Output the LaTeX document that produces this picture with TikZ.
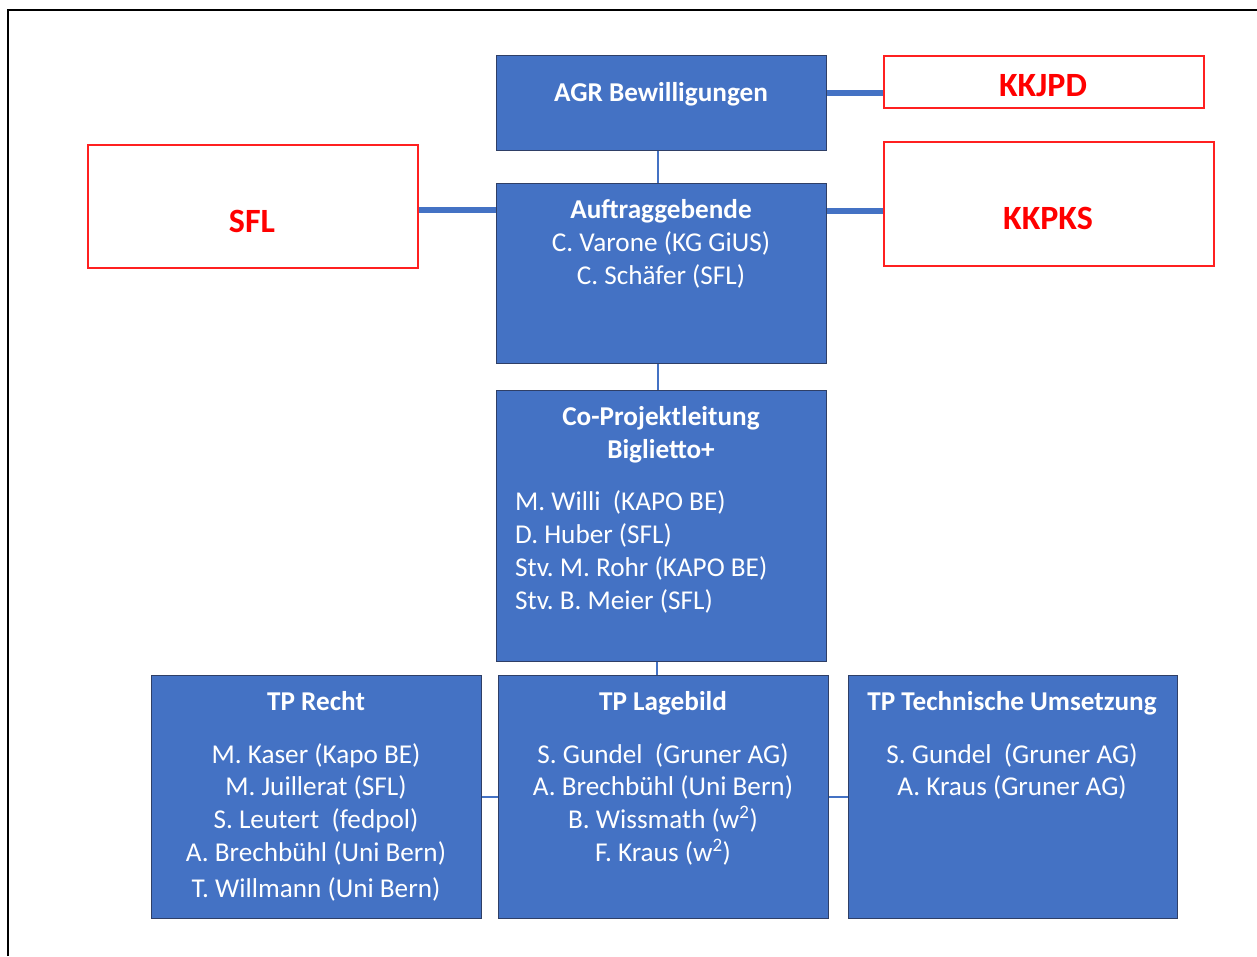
\documentclass[tikz,border=0pt]{standalone}
\usepackage{fontspec}
\setmainfont{Carlito}
\frenchspacing
\definecolor{boxblue}{HTML}{4472C4}
\definecolor{boxedge}{HTML}{2F3F66}
\definecolor{redtxt}{HTML}{FF0000}
\definecolor{rededge}{HTML}{FF2020}
\tikzset{
  bluebox/.style={draw=boxedge, line width=1.4pt, fill=boxblue, rectangle, inner sep=0pt, anchor=north west},
  redbox/.style={draw=rededge, line width=1.6pt, fill=white, rectangle, inner sep=0pt, anchor=north west},
  txt/.style={text=white, inner sep=0pt, font=\fontsize{27.2}{33}\selectfont},
  ttl/.style={txt, font=\fontsize{27.2}{33}\selectfont\bfseries},
  redlab/.style={text=redtxt, inner sep=0pt, anchor=base, font=\fontsize{34}{40}\selectfont\bfseries},
  thickcon/.style={draw=boxblue, line width=5.5pt},
  thincon/.style={draw=boxblue, line width=2pt},
}
\begin{document}
\begin{tikzpicture}[x=1pt,y=-1pt]
\useasboundingbox (0,0) rectangle (1257,956);
\fill[white] (0,0) rectangle (1257,956);
% frame
\coordinate (fbl) at (7.5,956);
\coordinate (ftl) at (7.5,9.5);
\coordinate (ftr) at (1257,9.5);
\draw[black, line width=2pt] (fbl) -- (ftl) -- (ftr);

% boxes
\node[bluebox, minimum width=330pt, minimum height=95pt] (agr) at (496,55) {};
\node[bluebox, minimum width=330pt, minimum height=180pt] (auf) at (496,183) {};
\node[bluebox, minimum width=330pt, minimum height=271pt] (co) at (496,390) {};
\node[bluebox, minimum width=330pt, minimum height=243pt] (recht) at (151,675) {};
\node[bluebox, minimum width=330pt, minimum height=243pt] (lage) at (498,675) {};
\node[bluebox, minimum width=329pt, minimum height=243pt] (tech) at (848,675) {};
\node[redbox, minimum width=320pt, minimum height=52pt] (kkjpd) at (883,55) {};
\node[redbox, minimum width=330pt, minimum height=123pt] (sfl) at (87,144) {};
\node[redbox, minimum width=330pt, minimum height=124pt] (kkpks) at (883,141) {};

% connectors
\coordinate (y1) at (0,93);
\coordinate (y2) at (0,210);
\coordinate (y3) at (0,211);
\coordinate (x1) at (658,0);
\coordinate (x2) at (657,0);
\coordinate (y4) at (0,797);
\draw[thickcon] (agr.east |- y1) -- (kkjpd.west |- y1);
\draw[thickcon] (sfl.east |- y2) -- (auf.west |- y2);
\draw[thickcon] (auf.east |- y3) -- (kkpks.west |- y3);
\draw[thincon] (agr.south -| x1) -- (auf.north -| x1);
\draw[thincon] (auf.south -| x1) -- (co.north -| x1);
\draw[thincon] (co.south -| x2) -- (lage.north -| x2);
\draw[thincon] (recht.east |- y4) -- (lage.west |- y4);
\draw[thincon] (lage.east |- y4) -- (tech.west |- y4);

% red labels
\node[redlab] (kkjpdT) at (1043,96) {KKJPD};
\node[redlab] (sflT) at (252,232) {SFL};
\node[redlab] (kkpksT) at (1048,229) {KKPKS};

% AGR
\node[ttl, anchor=base] (agrT) at (661,101) {AGR Bewilligungen};
% Auftraggebende
\node[ttl, anchor=base] (aufT) at (661,218) {Auftraggebende};
\node[txt, anchor=base] (aufA) at (661,251) {C. Varone (KG GiUS)};
\node[txt, anchor=base] (aufB) at (661,284) {C. Schäfer (SFL)};
% Co-Projektleitung
\node[ttl, anchor=base] (coT1) at (661,425) {Co-Projektleitung};
\node[ttl, anchor=base] (coT2) at (661,458) {Biglietto+};
\node[txt, anchor=base west] (coA) at (515,510) {M. Willi \ (KAPO BE)};
\node[txt, anchor=base west] (coB) at (515,543) {D. Huber (SFL)};
\node[txt, anchor=base west] (coC) at (515,576) {Stv. M. Rohr (KAPO BE)};
\node[txt, anchor=base west] (coD) at (515,609) {Stv. B. Meier (SFL)};
% TP Recht
\node[ttl, anchor=base] (rT) at (316,710) {TP Recht};
\node[txt, anchor=base] (rA) at (316,763) {M. Kaser (Kapo BE)};
\node[txt, anchor=base] (rB) at (316,795) {M. Juillerat (SFL)};
\node[txt, anchor=base] (rC) at (316,828) {S. Leutert \ (fedpol)};
\node[txt, anchor=base] (rD) at (316,861) {A. Brechbühl (Uni Bern)};
\node[txt, anchor=base] (rE) at (316,897) {T. Willmann (Uni Bern)};
% TP Lagebild
\node[ttl, anchor=base] (lT) at (663,710) {TP Lagebild};
\node[txt, anchor=base] (lA) at (663,763) {S. Gundel \ (Gruner AG)};
\node[txt, anchor=base] (lB) at (663,795) {A. Brechbühl (Uni Bern)};
\node[txt, anchor=base] (lC) at (663,828) {B. Wissmath (w\textsuperscript{2})};
\node[txt, anchor=base] (lD) at (663,861) {F. Kraus (w\textsuperscript{2})};
% TP Technische Umsetzung
\node[ttl, anchor=base] (tT) at (1012,710) {TP Technische Umsetzung};
\node[txt, anchor=base] (tA) at (1012,763) {S. Gundel \ (Gruner AG)};
\node[txt, anchor=base] (tB) at (1012,795) {A. Kraus (Gruner AG)};
\end{tikzpicture}
\end{document}
